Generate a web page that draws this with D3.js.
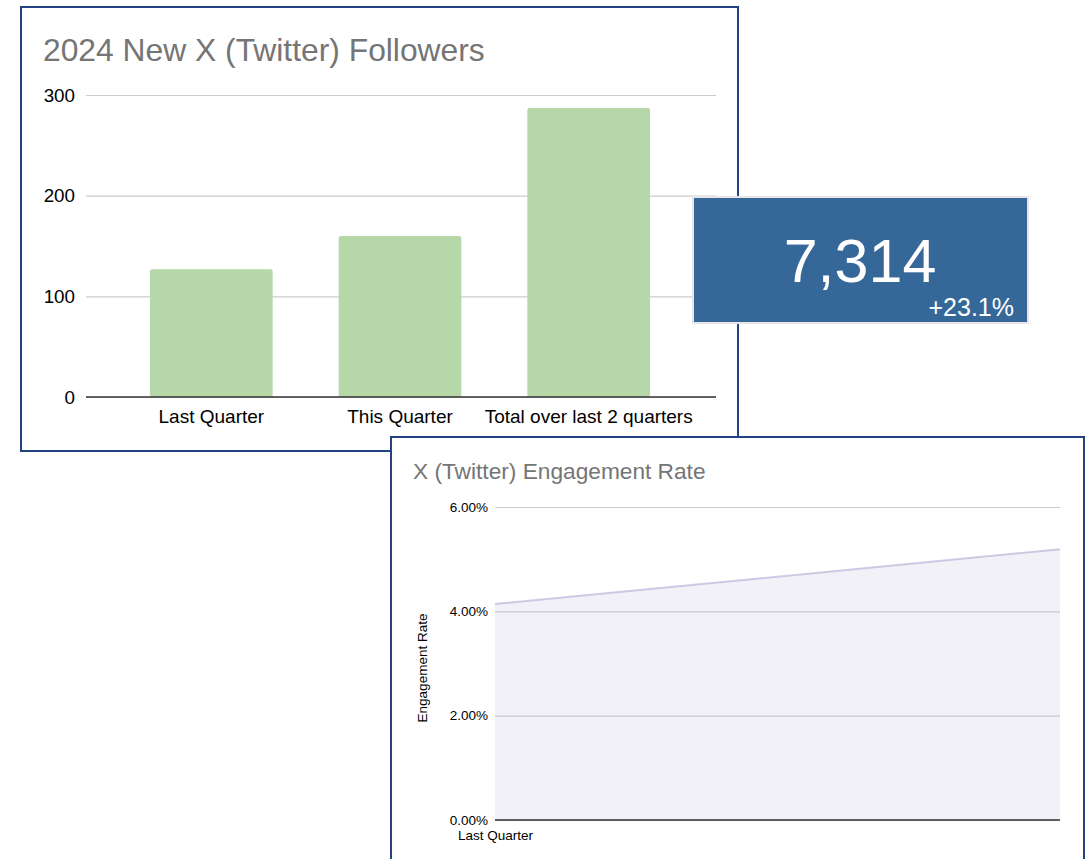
<!DOCTYPE html>
<html>
<head>
<meta charset="utf-8">
<script src="https://cdn.jsdelivr.net/npm/d3@7"></script>
<style>
  body { margin: 0; background: #fff; }
  svg { display: block; font-family: "Liberation Sans", Arial, sans-serif; }
  .axis .domain { display: none; }
</style>
</head>
<body>
<div id="chart"></div>
<script>
// data
var barCategories = ["Last Quarter", "This Quarter", "Total over last 2 quarters"];
var barValues = [127, 160, 287];
var barTicks = [0, 100, 200, 300];

var rateCategories = ["Last Quarter", "This Quarter"];
var rateValues = [0.0414, 0.0519];
var rateTicks = [0, 0.02, 0.04, 0.06];
var rateShownLabels = ["Last Quarter"];

var kpiValue = 7314;
var kpiChange = 0.231;

var svgWidth = 1087, svgHeight = 859;
var borderBlue = "#23427f";

var svg = d3.select("#chart")
    .append("svg")
    .attr("width", svgWidth)
    .attr("height", svgHeight);

// ---------- top panel: followers bar chart ----------
var barPanel = svg.append("g");
barPanel.append("rect")
    .attr("x", 21).attr("y", 7)
    .attr("width", 717).attr("height", 444)
    .attr("fill", "#fff")
    .attr("stroke", borderBlue)
    .attr("stroke-width", 2);

barPanel.append("text")
    .attr("x", 43).attr("y", 61)
    .attr("fill", "#757575")
    .style("font-size", "31.8px")
    .text("2024 New X (Twitter) Followers");

var plotLeft = 86, plotRight = 716;
var y = d3.scaleLinear().domain([0, 300]).range([397, 95]);
var x = d3.scaleBand()
    .domain(barCategories)
    .range([117, 683])
    .paddingInner(0.35)
    .paddingOuter(0.175);

var leftAxis = d3.axisLeft(y)
    .tickValues(barTicks)
    .tickSize(-(plotRight - plotLeft))
    .tickPadding(11);

var yg = barPanel.append("g")
    .attr("class", "axis")
    .attr("transform", `translate(${plotLeft},0)`)
    .call(leftAxis);
yg.selectAll("line").attr("stroke", "#cccccc").attr("stroke-width", 1.2);
yg.selectAll("text").style("font-size", "18.8px").attr("fill", "#000");

barPanel.selectAll("rect.bar")
    .data(barValues)
    .enter()
    .append("rect")
    .attr("class", "bar")
    .attr("x", (d, i) => x(barCategories[i]))
    .attr("y", d => y(d))
    .attr("width", x.bandwidth())
    .attr("height", d => y(0) - y(d))
    .attr("rx", 2)
    .attr("fill", "#b6d7a8");

barPanel.append("line")
    .attr("x1", plotLeft).attr("x2", plotRight)
    .attr("y1", y(0)).attr("y2", y(0))
    .attr("stroke", "#333")
    .attr("stroke-width", 1.5);

var bottomAxis = d3.axisBottom(x).tickSize(0).tickPadding(13);
var xg = barPanel.append("g")
    .attr("class", "axis")
    .attr("transform", `translate(0,${y(0)})`)
    .call(bottomAxis);
xg.selectAll("text").style("font-size", "19px").attr("fill", "#000");

// ---------- KPI box ----------
var kpi = svg.append("g");
kpi.append("rect")
    .attr("x", 693).attr("y", 197)
    .attr("width", 335).attr("height", 126)
    .attr("fill", "#356899")
    .attr("stroke", "#e6e6e6")
    .attr("stroke-width", 2);
kpi.append("text")
    .attr("x", 860).attr("y", 282)
    .attr("text-anchor", "middle")
    .attr("fill", "#fff")
    .style("font-size", "61px")
    .text(d3.format(",")(kpiValue));
kpi.append("text")
    .attr("x", 1014).attr("y", 316)
    .attr("text-anchor", "end")
    .attr("fill", "#fff")
    .style("font-size", "25px")
    .text("+" + d3.format(".1%")(kpiChange));

// ---------- bottom panel: engagement rate area ----------
var ratePanel = svg.append("g");
ratePanel.append("rect")
    .attr("x", 391).attr("y", 437)
    .attr("width", 693).attr("height", 440)
    .attr("fill", "#fff")
    .attr("stroke", borderBlue)
    .attr("stroke-width", 2);

ratePanel.append("text")
    .attr("x", 413).attr("y", 479)
    .attr("fill", "#757575")
    .style("font-size", "22.7px")
    .text("X (Twitter) Engagement Rate");

var rLeft = 495, rRight = 1060;
var ry = d3.scaleLinear().domain([0, 0.06]).range([820, 507]);
var rx = d3.scalePoint().domain(rateCategories).range([rLeft, rRight]);

var rAxis = d3.axisLeft(ry)
    .tickValues(rateTicks)
    .tickFormat(d3.format(".2%"))
    .tickSize(-(rRight - rLeft))
    .tickPadding(7);
var ryg = ratePanel.append("g")
    .attr("class", "axis")
    .attr("transform", `translate(${rLeft},0)`)
    .call(rAxis);
ryg.selectAll("line").attr("stroke", "#cccccc").attr("stroke-width", 1.2);
ryg.selectAll("text").style("font-size", "13.5px").attr("fill", "#000");

var area = d3.area()
    .x((d, i) => rx(rateCategories[i]))
    .y0(ry(0))
    .y1(d => ry(d));
var line = d3.line()
    .x((d, i) => rx(rateCategories[i]))
    .y(d => ry(d));

ratePanel.append("path")
    .datum(rateValues)
    .attr("d", area)
    .attr("fill", "#b4a7d6")
    .attr("fill-opacity", 0.16);
ratePanel.append("path")
    .datum(rateValues)
    .attr("d", line)
    .attr("fill", "none")
    .attr("stroke", "#b4a7d6")
    .attr("stroke-opacity", 0.6)
    .attr("stroke-width", 2);

ratePanel.append("line")
    .attr("x1", rLeft).attr("x2", rRight)
    .attr("y1", ry(0)).attr("y2", ry(0))
    .attr("stroke", "#333")
    .attr("stroke-width", 1.5);

var rxAxis = d3.axisBottom(rx).tickValues(rateShownLabels).tickSize(0).tickPadding(10);
var rxg = ratePanel.append("g")
    .attr("class", "axis")
    .attr("transform", `translate(0,${ry(0)})`)
    .call(rxAxis);
rxg.selectAll("text").style("font-size", "13.5px").attr("fill", "#000");

ratePanel.append("text")
    .attr("transform", "translate(427,668) rotate(-90)")
    .attr("text-anchor", "middle")
    .attr("fill", "#000")
    .style("font-size", "13.5px")
    .text("Engagement Rate");
</script>
</body>
</html>
